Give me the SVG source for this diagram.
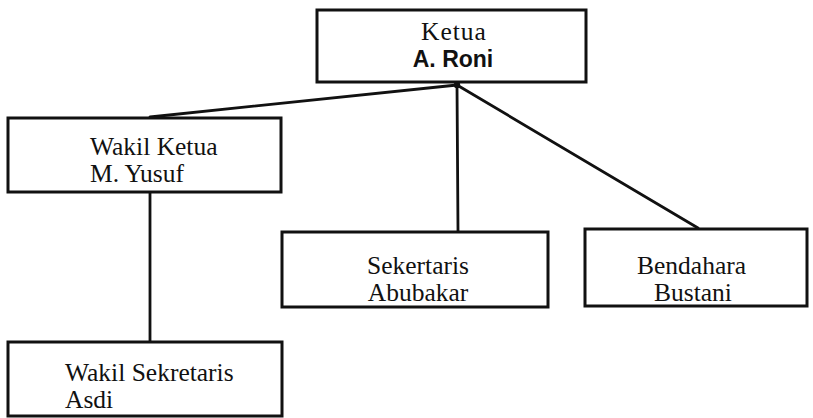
<svg xmlns="http://www.w3.org/2000/svg" width="813" height="418" viewBox="0 0 813 418">
  <style>
    .box { fill: #fff; stroke: #111; stroke-width: 3; }
    .link { stroke: #111; stroke-width: 2.8; fill: none; stroke-linecap: round; }
    .t { font-family: "Liberation Serif", "Times New Roman", serif; font-size: 25.5px; fill: #111; }
    .b { font-family: "Liberation Sans", Arial, sans-serif; font-size: 23px; font-weight: bold; fill: #111; }
  </style>
  <rect width="813" height="418" fill="#fff"/>

  <g id="connectors">
    <line class="link" x1="457" y1="85" x2="150" y2="117"/>
    <line class="link" x1="457" y1="85" x2="458" y2="231"/>
    <line class="link" x1="457" y1="85" x2="698" y2="228"/>
    <line class="link" x1="150" y1="193" x2="150" y2="342"/>
    <circle cx="457" cy="85" r="3.2" fill="#111"/>
  </g>

  <g id="ketua">
    <rect class="box" x="317" y="10" width="269" height="72"/>
    <text class="t" x="454" y="40" text-anchor="middle" letter-spacing="1">Ketua</text>
    <text class="b" x="453" y="67" text-anchor="middle">A. Roni</text>
  </g>

  <g id="wakil-ketua">
    <rect class="box" x="8" y="118" width="273" height="74"/>
    <text class="t" x="90" y="155">Wakil Ketua</text>
    <text class="t" x="90" y="182">M. Yusuf</text>
  </g>

  <g id="sekertaris">
    <rect class="box" x="282" y="232" width="266" height="75"/>
    <text class="t" x="418" y="274" text-anchor="middle">Sekertaris</text>
    <text class="t" x="418" y="301" text-anchor="middle">Abubakar</text>
  </g>

  <g id="bendahara">
    <rect class="box" x="585" y="229" width="222" height="77"/>
    <text class="t" x="637" y="274">Bendahara</text>
    <text class="t" x="654" y="301">Bustani</text>
  </g>

  <g id="wakil-sekretaris">
    <rect class="box" x="8" y="342" width="274" height="74"/>
    <text class="t" x="65" y="381">Wakil Sekretaris</text>
    <text class="t" x="65" y="408">Asdi</text>
  </g>
</svg>
